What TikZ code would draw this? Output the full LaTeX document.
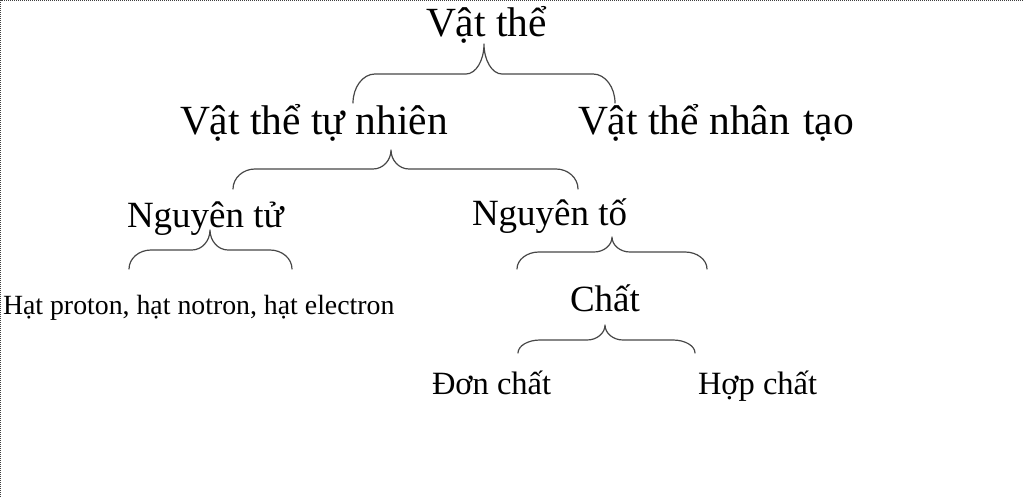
\documentclass[tikz,border=0pt]{standalone}
\usepackage{fontspec}
\setmainfont{Liberation Serif}
\tikzset{
  lbl/.style={inner sep=0pt, outer sep=0pt, anchor=base west, text=black},
  big/.style={lbl, font=\fontsize{41.5}{48}\selectfont},
  mid/.style={lbl, font=\fontsize{37}{43}\selectfont},
  sml/.style={lbl, font=\fontsize{32.5}{38}\selectfont},
  tiny/.style={lbl, font=\fontsize{27.8}{32}\selectfont},
  bracestroke/.style={draw=black!72, line width=1.2pt, line cap=round, line join=round},
  frame/.style={draw=black!75, line width=1pt, dash pattern=on 1pt off 1pt}
}
\def\brR{22}
\def\brT{18}
% name, xl, xt, xr, yend, yarm, ytip
\newcommand\upbrace[7]{%
  \coordinate (#1l) at (#2,#5);
  \coordinate (#1t) at (#3,#7);
  \coordinate (#1r) at (#4,#5);
  \draw[bracestroke] (#1l)
    .. controls (#2,{#6+0.45*(#5-#6)}) and ({#2+0.45*\brR},#6) .. ({#2+\brR},#6)
    -- ({#3-\brT},#6)
    .. controls ({#3-0.45*\brT},#6) and (#3,{#6-0.45*(#6-#7)}) .. (#1t)
    .. controls (#3,{#6-0.45*(#6-#7)}) and ({#3+0.45*\brT},#6) .. ({#3+\brT},#6)
    -- ({#4-\brR},#6)
    .. controls ({#4-0.45*\brR},#6) and (#4,{#6+0.45*(#5-#6)}) .. (#1r);
}
\begin{document}
\begin{tikzpicture}[x=1pt,y=-1pt]
\useasboundingbox (0,0) rectangle (1024,497);
\fill[white] (0,0) rectangle (1024,497);
\coordinate (fbl) at (0.5,497);
\coordinate (ftl) at (0.5,0.5);
\coordinate (ftr) at (1024,0.5);
\draw[frame] (fbl) -- (ftl) -- (ftr);

% texts
\node[big] (vatthe) at (426,37) {Vật thể};
\node[big] (tunhien) at (180,135) {Vật thể tự nhiên};
\node[big] (nhantao) at (578,135) {Vật thể nhân\hspace{3pt} tạo};
\node[mid] (nguyentu) at (127,227) {Nguyên tử};
\node[mid] (nguyento) at (472,225) {Nguyên tố};
\node[mid] (chat) at (570,311) {Chất};
\node[tiny] (hat) at (3,314) {Hạt proton, hạt notron, hạt electron};
\node[sml] (don) at (432,394) {Đơn chất};
\node[sml] (hop) at (698,394) {Hợp chất};

% braces
\upbrace{b1}{353}{484}{615}{103}{74}{44}
\upbrace{b2}{233}{391}{578}{189}{169}{150}
\upbrace{b3}{129}{210}{292}{269}{250}{230}
\upbrace{b4}{517}{612}{707}{269}{252}{237}
\upbrace{b5}{518}{605}{695}{353}{340}{325}
\end{tikzpicture}
\end{document}
